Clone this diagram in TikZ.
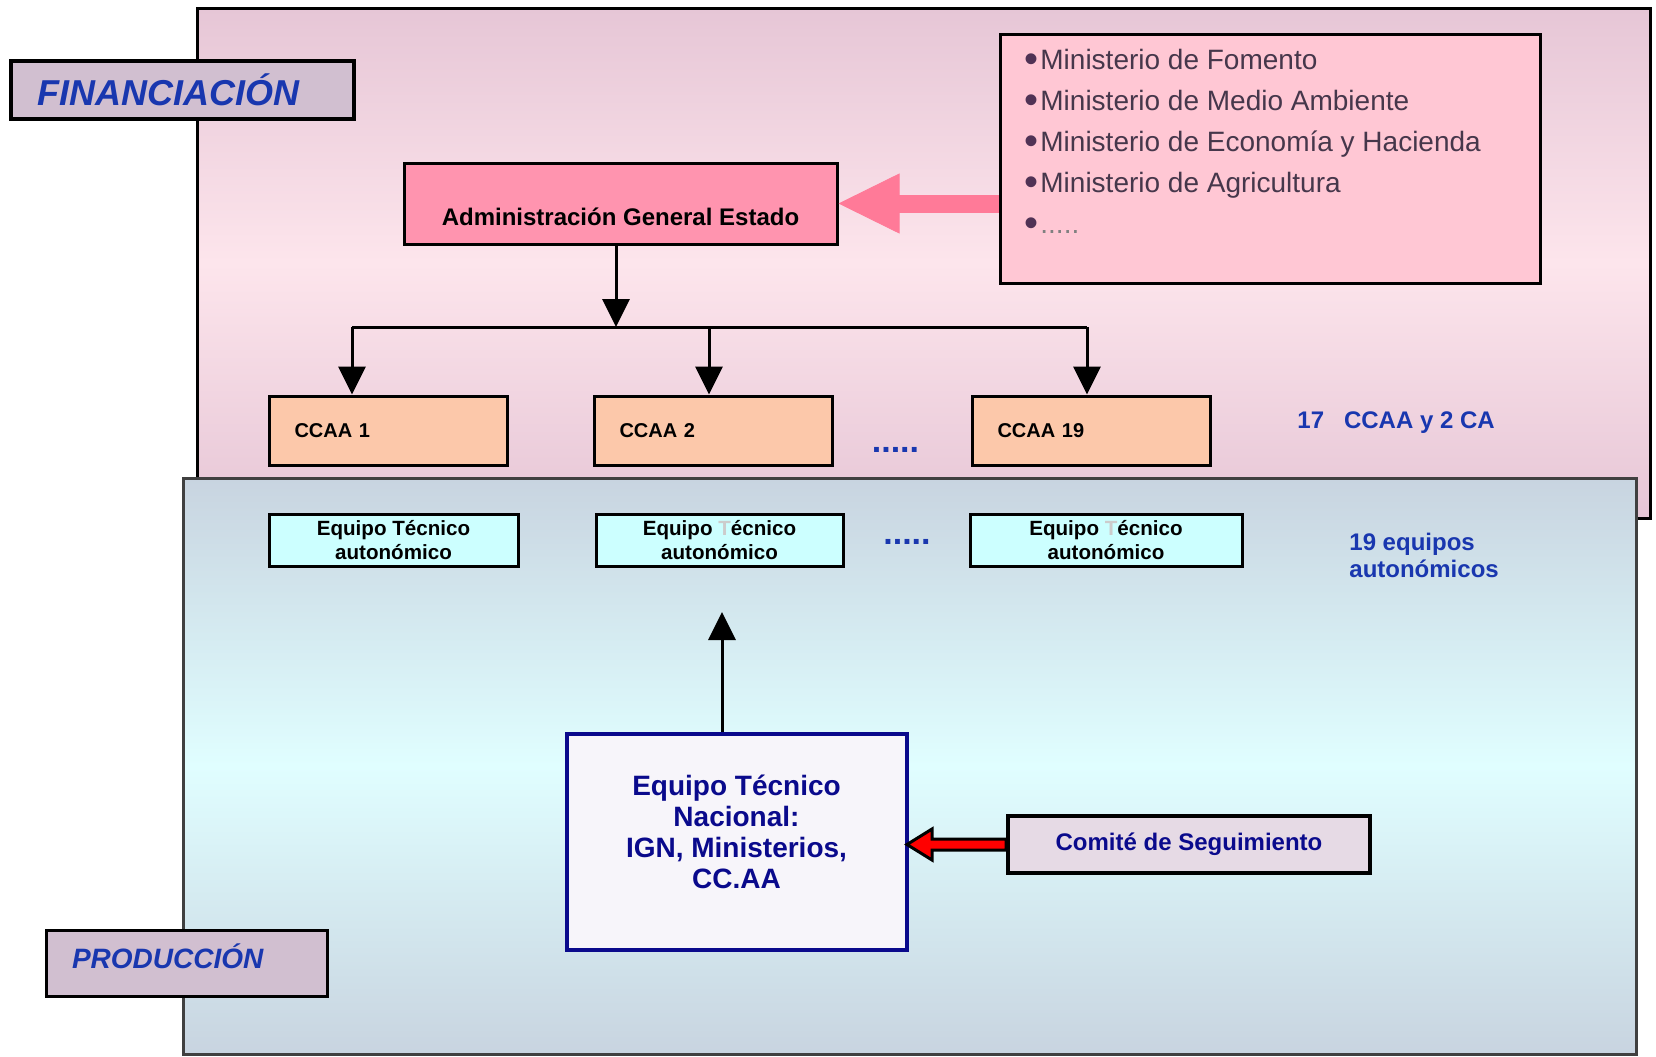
\documentclass[tikz,border=0pt]{standalone}
\usepackage{fontspec}
\setmainfont{Liberation Sans}
\usetikzlibrary{arrows.meta}

\definecolor{rosaclaro}{RGB}{253,229,236}
\definecolor{rosaborde}{RGB}{230,198,214}
\definecolor{celeste}{RGB}{224,254,255}
\definecolor{grisazul}{RGB}{200,212,224}
\definecolor{malva}{RGB}{209,191,208}
\definecolor{rosaage}{RGB}{255,148,175}
\definecolor{rosamin}{RGB}{255,199,212}
\definecolor{rosaflecha}{RGB}{255,122,152}
\definecolor{salmon}{RGB}{252,200,170}
\definecolor{cian}{RGB}{204,255,255}
\definecolor{lila}{RGB}{230,218,229}
\definecolor{blanco}{RGB}{247,245,250}
\definecolor{azul}{RGB}{25,55,175}
\definecolor{marino}{RGB}{10,10,140}
\definecolor{textomin}{RGB}{70,55,75}
\definecolor{vineta}{RGB}{80,50,85}

\newcommand{\punto}{\raisebox{-1.5pt}{\color{vineta}\fontsize{20}{20}\selectfont\textbullet}\kern1pt}

\begin{document}
\begin{tikzpicture}[x=0.5pt,y=-0.5pt,
  caja/.style={draw=black,line width=1.5pt,inner sep=0pt},
  ccaa/.style={caja,fill=salmon,inner xsep=12.5pt,text width=94pt,minimum height=34.5pt,align=left,font=\fontsize{10}{12}\selectfont\bfseries},
  equipo/.style={caja,fill=cian,minimum height=26pt,align=center,font=\fontsize{10.3}{12}\selectfont\bfseries},
  puntos/.style={inner sep=0pt,text=azul,font=\fontsize{17}{17}\selectfont\bfseries},
  flecha/.style={line width=1.5pt,-{Triangle[width=13.5pt,length=14pt]}},
  gruesa/.style={rosaflecha,line width=9pt,-{Triangle[width=30pt,length=30.5pt,line width=0.4pt]}}]

  \useasboundingbox (0,0) rectangle (1656,1056);

  % Paneles
  \shadedraw[top color=rosaborde,bottom color=rosaborde,middle color=rosaclaro,draw=black,line width=1.5pt] (197,8) rectangle (1650,518);
  \shadedraw[top color=grisazul,bottom color=grisazul,middle color=celeste,draw=black!75,line width=1.5pt] (183,478) rectangle (1636,1054);

  \node[caja,line width=2pt,fill=malva,minimum height=29pt,inner xsep=13.5pt,text width=144.5pt,align=left,
    font=\fontsize{18}{20}\selectfont\bfseries\itshape,text=azul] (fin) at (182.25,90) {FINANCIACIÓN};
  \node[caja,fill=malva,minimum height=33pt,inner xsep=13pt,text width=114.5pt,align=left,text height=10pt,text depth=5pt,
    font=\fontsize{14}{16}\selectfont\bfseries\itshape,text=azul] (prod) at (186.5,963) {PRODUCCIÓN};

  % Financiación
  \node[caja,fill=rosaage,minimum width=216.5pt,minimum height=40.5pt,text height=21.6pt,text depth=0pt,
    font=\fontsize{12}{14}\selectfont\bfseries] (age) at (620.5,203.5) {Administración General Estado};
  \node[caja,fill=rosamin,minimum width=270pt,minimum height=124.5pt] (min) at (1270,158.5) {};
  \node[anchor=north west,inner sep=0pt,align=left,text=textomin,font=\fontsize{14}{20.5}\selectfont] (lista) at (1024,49)
    {\punto Ministerio de Fomento\\
     \punto Ministerio de Medio Ambiente\\
     \punto Ministerio de Economía y Hacienda\\
     \punto Ministerio de Agricultura\\
     \punto{\color{gray}.....}};
  \draw[gruesa] (min.west |- age.east) -- (age.east);

  \coordinate (bus) at (616,327);
  \draw[flecha] (age.south -| bus) -- (bus);
  \foreach \n/\xc/\xf in {1/388.5/352,2/713.5/709,19/1091.5/1087} {
    \node[ccaa] (ccaa\n) at (\xc,430.5) {CCAA \n};
    \coordinate (b\n) at (\xf,327);
    \draw[flecha] (b\n) -- (b\n |- ccaa\n.north);
  }
  \draw[line width=1.5pt] (b1) -- (b19);
  \node[puntos] (p1) at (895.5,450) {.....};
  \node[anchor=base west,inner sep=0pt,text=azul,font=\fontsize{12}{14}\selectfont\bfseries] (total) at (1297,428) {17\ \ \ CCAA y 2 CA};

  % Producción
  \foreach \n/\xc/\w/\ct in {1/393.5/124.5pt/black,2/719.5/123.5pt/gray!40,19/1106/136pt/gray!40} {
    \node[equipo,minimum width=\w] (et\n) at (\xc,540) {Equipo \textcolor{\ct}{T}écnico\\autonómico};
  }
  \node[puntos] (p2) at (907,542) {.....};
  \node[anchor=north west,inner sep=0pt,align=left,text=azul,font=\fontsize{12}{13.5}\selectfont\bfseries] (equipos) at (1349,533) {19 equipos\\autonómicos};

  \node[caja,draw=marino,line width=2pt,fill=blanco,minimum width=170pt,minimum height=108pt] (etn) at (736.5,842) {};
  \node[align=center,inner sep=0pt,text=marino,font=\fontsize{14}{15.5}\selectfont\bfseries] (etntexto)
    at ([yshift=5.3pt]etn.center) {Equipo Técnico\\Nacional:\\IGN, Ministerios,\\CC.AA};
  \coordinate (punta) at (722,612);
  \draw[flecha] (etn.north -| punta) -- (punta);

  \node[caja,line width=2pt,fill=lila,minimum width=181pt,minimum height=28.5pt,text=marino,
    font=\fontsize{12}{14}\selectfont\bfseries] (com) at (1189,844.5) {Comité de Seguimiento};
  \draw[fill=red,line width=1.5pt] (com.west) ++(0,-5.5) -- ++(-74,0) -- ++(0,-10) -- ++(-25,15.5) -- ++(25,15.5) -- ++(0,-10) -- ++(74,0) -- cycle;
\end{tikzpicture}
\end{document}
